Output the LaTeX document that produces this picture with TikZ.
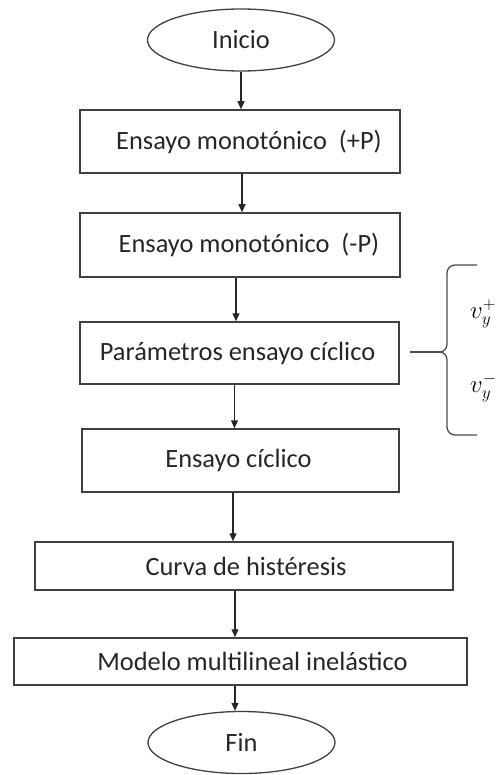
\documentclass[tikz,border=0pt]{standalone}
\usepackage{fontspec}
\setmainfont{Carlito}
\usepackage{tikz}
\usetikzlibrary{shapes.geometric, arrows.meta}
\tikzset{
    texto/.style  = {font=\fontsize{26.4}{30}\selectfont, text=black!85},
    caja/.style   = {draw=black!75, line width=1.5pt, rectangle, inner sep=0pt},
    elipse/.style = {draw=black!75, line width=1.3pt, ellipse, inner sep=0pt,
                     minimum width=187pt, minimum height=62pt, texto},
    flecha/.style = {-{Triangle[length=8pt, width=7pt]}, line width=1.2pt, black!85},
    llave/.style  = {draw=black!70, line width=1.3pt},
    param/.style  = {anchor=west, inner sep=0pt, font=\fontsize{23}{27}\selectfont},
}

\begin{document}
\begin{tikzpicture}[x=1pt, y=-1pt]
        \useasboundingbox (0,0) rectangle (498,775);
        % inicio y fin
        \node[elipse] (ini) at (241,40) {Inicio};
        \node[elipse] (fin) at (241.5,742.5) {Fin};
        % pasos del ensayo
        \node[caja, minimum width=320pt, minimum height=63pt,
              label={[texto, xshift=9pt]center:Ensayo monotónico\ \ (+P)}] (b1) at (240,141.5) {};
        \node[caja, minimum width=320pt, minimum height=64pt,
              label={[texto, xshift=9pt]center:Ensayo monotónico\ \ (-P)}] (b2) at (240,245) {};
        \node[caja, minimum width=319pt, minimum height=62pt,
              label={[texto, xshift=-2pt]center:Parámetros ensayo cíclico}] (b3) at (239.5,353) {};
        \node[caja, minimum width=317pt, minimum height=63pt,
              label={[texto, xshift=-2pt]center:Ensayo cíclico}] (b4) at (240.5,460.5) {};
        \node[caja, minimum width=418pt, minimum height=48pt,
              label={[texto, xshift=2pt]center:Curva de histéresis}] (b5) at (244,566) {};
        \node[caja, minimum width=453pt, minimum height=47pt,
              label={[texto, xshift=12pt]center:Modelo multilineal inelástico}] (b6) at (240.5,661.5) {};
        % flechas
        \draw[flecha] (ini.south) -- (ini.south |- b1.north);
        \draw[flecha] ([xshift=2pt]b1.south) -- ([xshift=2pt]b1.south |- b2.north);
        \draw[flecha] ([xshift=-4pt]b2.south) -- ([xshift=-4pt]b2.south |- b3.north);
        \draw[flecha] ([xshift=-5pt]b3.south) -- ([xshift=-5pt]b3.south |- b4.north);
        \draw[flecha] ([xshift=-7.5pt]b4.south) -- ([xshift=-7.5pt]b4.south |- b5.north);
        \draw[flecha] ([xshift=-9pt]b5.south) -- ([xshift=-9pt]b5.south |- b6.north);
        \draw[flecha] ([xshift=-5.5pt]b6.south) -- ([xshift=-5.5pt]b6.south |- fin.north);
        % llave con los parametros
        \coordinate (sal) at (410,352);
        \coordinate (pico) at (440,352);
        \draw[llave] (sal) -- (pico);
        \draw[llave] (477,265) -- (455,265) to[out=180, in=90] (447,273) -- (447,344)
            to[out=-90, in=0] (pico) to[out=0, in=90] (447,360) -- (447,427)
            to[out=-90, in=180] (455,435) -- (477,435);
        \node[param] (vmas) at (470,314) {$v_y^+$};
        \node[param] (vmenos) at (470,388) {$v_y^-$};
\end{tikzpicture}
\end{document}
